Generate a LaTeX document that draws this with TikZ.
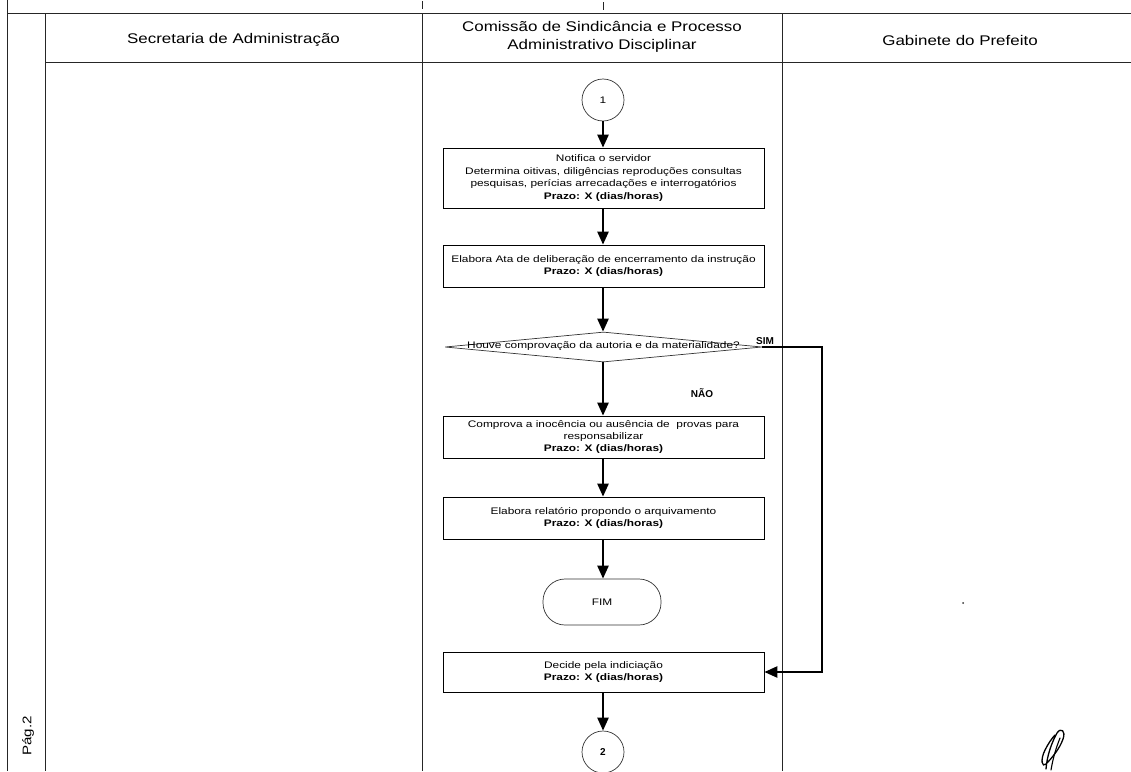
\documentclass[tikz,border=0pt]{standalone}
\usepackage{fontspec}
\setmainfont{Liberation Sans}
\newfontfamily\hdfont[FakeStretch=1.21]{Liberation Sans}
\newfontfamily\bxfont[FakeStretch=1.25]{Liberation Sans}
\usetikzlibrary{arrows.meta,shapes.geometric}

\begin{document}
\begin{tikzpicture}[x=1pt,y=-1pt,
  lane/.style={draw=black!85, line width=0.8pt},
  hdtext/.style={font=\hdfont\fontsize{14}{18}\selectfont, align=center, inner sep=0pt},
  boxfont/.style={font=\bxfont\fontsize{9.5}{12.4}\selectfont},
  stepbox/.style={boxfont, draw=black, line width=0.7pt, minimum width=321pt, inner sep=0pt,
    align=center},
  connector/.style={boxfont, circle, minimum size=42pt, inner sep=0pt,
    draw=black!80, line width=0.7pt},
  terminal/.style={boxfont, draw=black!80, line width=0.7pt, rounded corners=22pt, minimum width=118pt,
    minimum height=46pt, inner sep=0pt},
  flow/.style={draw=black, line width=2.4pt, -{Triangle[length=13pt,width=11pt]}},
  lbl/.style={boxfont, font=\bfseries, inner sep=0pt}
]
\useasboundingbox (0,0) rectangle (1131,771);

% frame and swimlanes
\draw[lane] (7,0) -- (7,771);
\draw[lane] (7,13) -- (1131,13);
\draw[lane] (45,62) -- (1131,62);
\draw[lane] (45,13) -- (45,771);
\draw[lane] (422,13) -- (422,771);
\draw[lane] (782,13) -- (782,771);
\draw[lane, line width=0.6pt] (422,1) -- (422,9);
\draw[lane, line width=0.6pt] (603,2) -- (603,10);

% lane headings
\node[hdtext] (h1) at (233.5,40) {Secretaria de Administração};
\node[hdtext] (h2) at (602,37) {Comissão de Sindicância e Processo\\Administrativo Disciplinar};
\node[hdtext] (h3) at (960,40) {Gabinete do Prefeito};

% page number
\node[font=\hdfont\fontsize{12.5}{14}\selectfont, rotate=90, inner sep=0pt] (pg) at (28,736) {Pág.2};

% flow
\node[connector] (c1) at (603,100) {1};
\node[stepbox, minimum height=60pt] (b1) at (603.5,178) {Notifica o servidor\\Determina oitivas, diligências reproduções consultas\\pesquisas, perícias arrecadações e interrogatórios\\\textbf{Prazo: X (dias/horas)}};
\node[stepbox, minimum height=42pt] (b2) at (603.5,266) {Elabora Ata de deliberação de encerramento da instrução\\\textbf{Prazo: X (dias/horas)}};
\node[diamond, draw=black!80, line width=0.7pt, minimum width=317pt, minimum height=30pt, inner sep=0pt] (dec) at (603.5,347) {};
\node[boxfont, inner sep=0pt] (dect) at (603.5,346) {Houve comprovação da autoria e da materialidade?};
\node[stepbox, minimum height=42pt] (b3) at (603.5,437) {Comprova a inocência ou ausência de \ provas para\\responsabilizar\\\textbf{Prazo: X (dias/horas)}};
\node[stepbox, minimum height=42pt] (b4) at (603.5,518) {Elabora relatório propondo o arquivamento\\\textbf{Prazo: X (dias/horas)}};
\node[terminal] (fim) at (602,602) {FIM};
\node[stepbox, minimum height=40pt] (b5) at (603.5,672) {Decide pela indiciação\\\textbf{Prazo: X (dias/horas)}};
\node[connector, font=\bfseries] (c2) at (603,752) {2};

\draw[flow] (c1) -- (c1 |- b1.north);
\draw[flow] (b1.south -| c1) -- (b2.north -| c1);
\draw[flow] (b2.south -| c1) -- (dec.north -| c1);
\draw[flow] (dec.south -| c1) -- (b3.north -| c1);
\draw[flow] (b3.south -| c1) -- (b4.north -| c1);
\draw[flow] (b4.south -| c1) -- (fim.north -| c1);
\draw[flow] (b5.south -| c1) -- (c2);
\coordinate (turn1) at (822,347);
\coordinate (turn2) at (822,672);
\draw[flow] (dec.east) -- (turn1) -- (turn2) -- (b5.east);

\node[lbl] (sim) at (765,341) {SIM};
\node[lbl] (nao) at (702,393) {NÃO};

% stray mark and initials
\fill[black!80] (963,603) circle (1pt);
\draw[line width=1.3pt, line cap=round] (1046,769) .. controls (1047,755) and (1052,742) .. (1057,733)
  .. controls (1061,727) and (1066,731) .. (1063,739) .. controls (1060,748) and (1052,758) .. (1046,764)
  .. controls (1042,768) and (1040,760) .. (1045,750) .. controls (1048,744) and (1052,738) .. (1055,735);
\draw[line width=1.1pt, line cap=round] (1051,770) .. controls (1053,758) and (1056,748) .. (1060,738);
\end{tikzpicture}
\end{document}
